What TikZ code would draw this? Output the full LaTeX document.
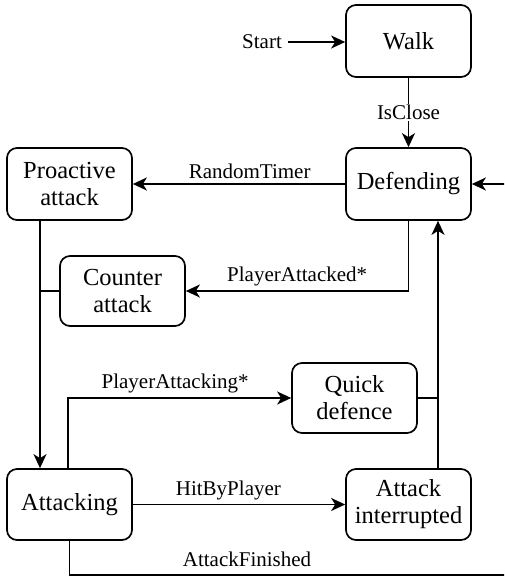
\documentclass[tikz,border=0pt]{standalone}
\usepackage{fontspec}
\setmainfont{Liberation Serif}
\usetikzlibrary{arrows.meta,calc}
\begin{document}
\begin{tikzpicture}[x=1pt,y=-1pt,
  state/.style={draw,rounded corners=10pt,line width=1.7pt,minimum width=125pt,minimum height=72pt,align=center,inner sep=2pt,font=\fontsize{24.5}{27}\selectfont},
  lbl/.style={font=\fontsize{21}{24}\selectfont,inner sep=1pt},
  arr/.style={line width=1.6pt,-{Stealth[length=14pt,width=13pt,inset=4pt]}},
  ln/.style={line width=1.6pt}]
\useasboundingbox (0,0) rectangle (504,581);
\clip (0,0) rectangle (504,581);
\node[state] (walk) at (408.5,41) {Walk};
\node[state] (defending) at (408.5,184) {Defending};
\node[state] (proactive) at (69.5,184) {Proactive\\attack};
\node[state,minimum height=70pt] (counter) at (122.5,291) {Counter\\attack};
\node[state,minimum height=70pt] (quick) at (354.5,398) {Quick\\defence};
\node[state,minimum height=71pt] (attacking) at (69.5,504.5) {Attacking};
\node[state,minimum height=71pt] (interrupted) at (408.5,504.5) {Attack\\interrupted};
\node[lbl,inner sep=6pt] (start) at (262,42) {Start};
\draw[arr] (start.east) -- (start.east -| walk.west);
\draw[arr] (walk) -- node[lbl,fill=white] {IsClose} (defending);
\draw[arr] (defending) -- node[lbl,above=3pt,pos=0.45] {RandomTimer} (proactive);
\draw[arr] (defending.south) |- node[lbl,above=3pt,pos=0.75] {PlayerAttacked*} (counter.east);
\coordinate (pa) at ([xshift=-29.5pt]proactive.south);
\coordinate (aa) at ([xshift=-29.5pt]attacking.north);
\draw[arr] (pa) -- (aa);
\draw[ln] (counter.west) -- (counter.west -| pa);
\draw[arr] ([xshift=-1.5pt]attacking.north) |- node[lbl,above=3pt,pos=0.74] {PlayerAttacking*} (quick.west);
\coordinate (ia) at ([xshift=29.5pt]interrupted.north);
\coordinate (da) at ([xshift=29.5pt]defending.south);
\draw[arr] (ia) -- (da);
\draw[ln] (quick.east) -- (quick.east -| ia);
\draw[arr] (attacking) -- node[lbl,above=3pt,pos=0.45] {HitByPlayer} (interrupted);
\coordinate (far) at (520,575);
\draw[arr] (attacking.south) |- (far) |- (defending.east);
\node[lbl] (af) at (247,559) {AttackFinished};
\end{tikzpicture}
\end{document}
